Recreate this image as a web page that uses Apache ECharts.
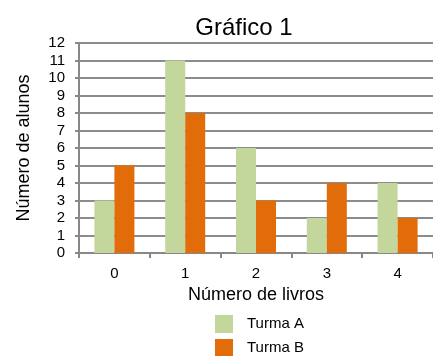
<!DOCTYPE html>
<html>
<head>
<meta charset="utf-8">
<script src="https://cdn.jsdelivr.net/npm/echarts@6/dist/echarts.min.js"></script>
<style>
html,body{margin:0;padding:0;background:#fff;}
#chart{width:433px;height:356px;}
</style>
</head>
<body>
<div id="chart"></div>
<script>
// Number of books read (x) vs number of students, per class
const categories = ['0', '1', '2', '3', '4'];
const turmaA = [3, 11, 6, 2, 4];
const turmaB = [5, 8, 3, 4, 2];
const seriesNames = ['Turma A', 'Turma B'];

const font = '"Liberation Sans", Arial, sans-serif';
const chart = echarts.init(document.getElementById('chart'), null, {renderer: 'canvas'});

chart.setOption({
  animation: false,
  backgroundColor: '#fff',
  title: {
    text: 'Gráfico 1',
    left: 239, top: 11, textAlign: 'center',
    textStyle: {fontFamily: font, fontSize: 24, fontWeight: 'normal', color: '#000'}
  },
  legend: {
    data: seriesNames,
    orient: 'vertical',
    left: 215, top: 315, height: 60,
    padding: 0,
    itemWidth: 18, itemHeight: 18, itemGap: 6,
    icon: 'rect',
    textStyle: {fontFamily: font, fontSize: 15, color: '#000', padding: [0, 0, 0, 9]}
  },
  grid: {left: 79, right: -6, top: 43, bottom: 103, containLabel: false},
  xAxis: {
    type: 'category',
    data: categories,
    name: 'Número de livros',
    nameLocation: 'middle',
    nameGap: 33,
    nameTextStyle: {fontFamily: font, fontSize: 18, color: '#000'},
    axisLine: {lineStyle: {color: '#888', width: 2}},
    axisTick: {show: true, length: 5, lineStyle: {color: '#888', width: 2}},
    axisLabel: {fontFamily: font, fontSize: 15, color: '#000', margin: 13}
  },
  yAxis: {
    type: 'value',
    min: 0, max: 12, interval: 1,
    name: 'Número de alunos',
    nameLocation: 'middle',
    nameGap: 46,
    nameTextStyle: {fontFamily: font, fontSize: 18, color: '#000'},
    axisLine: {show: true, lineStyle: {color: '#888', width: 2}},
    axisTick: {show: true, length: 4, lineStyle: {color: '#888', width: 2}},
    axisLabel: {fontFamily: font, fontSize: 15, color: '#000', margin: 14},
    splitLine: {lineStyle: {color: '#8c8c8c', width: 2}}
  },
  series: [
    {name: seriesNames[0], type: 'bar', data: turmaA, barWidth: 20, barGap: '0%',
     itemStyle: {color: '#c3d69b'}},
    {name: seriesNames[1], type: 'bar', data: turmaB, barWidth: 20, barGap: '0%',
     itemStyle: {color: '#e36c0a'}}
  ]
});
</script>
</body>
</html>
